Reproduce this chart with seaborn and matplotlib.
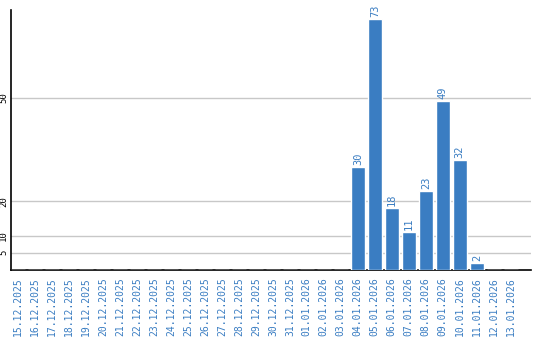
import matplotlib
matplotlib.use("Agg")
import matplotlib.pyplot as plt
import seaborn as sns
import pandas as pd

dates = ["15.12.2025", "16.12.2025", "17.12.2025", "18.12.2025", "19.12.2025",
         "20.12.2025", "21.12.2025", "22.12.2025", "23.12.2025", "24.12.2025",
         "25.12.2025", "26.12.2025", "27.12.2025", "28.12.2025", "29.12.2025",
         "30.12.2025", "31.12.2025", "01.01.2026", "02.01.2026", "03.01.2026",
         "04.01.2026", "05.01.2026", "06.01.2026", "07.01.2026", "08.01.2026",
         "09.01.2026", "10.01.2026", "11.01.2026", "12.01.2026", "13.01.2026"]
values = [0, 0, 0, 0, 0, 0, 0, 0, 0, 0,
          0, 0, 0, 0, 0, 0, 0, 0, 0, 0,
          30, 73, 18, 11, 23, 49, 32, 2, 0, 0]
yticks = [5, 10, 20, 50]

BLUE = "#3a7dc2"
sns.set_style("white")
plt.rcParams['font.family'] = ['DejaVu Sans Mono', 'DejaVu Sans']

df = pd.DataFrame({"date": dates, "value": values})
fig = plt.figure(figsize=(5.4, 3.4), dpi=100)
ax = fig.add_axes([0.0204, 0.206, 0.9626, 0.7646])
sns.barplot(data=df, x="date", y="value", color=BLUE, saturation=1, width=0.82, ax=ax, zorder=3)

ax.set_ylim(0, 75.6)
ax.set_xlim(-0.41, -0.41 + 520 / 17)
ax.set_yticks(yticks)
ax.set_yticklabels([str(t) for t in yticks], rotation=90, va="center", fontsize=6.5, color="black")
for t in yticks:
    ax.axhline(t, color="#c8c8c8", lw=1, zorder=1)
ax.tick_params(axis="y", length=0, pad=2)
ax.tick_params(axis="x", length=0, pad=5)
ax.set_xticks(range(len(dates)))
ax.set_xticklabels(dates, rotation=90, fontsize=7, color=BLUE)
ax.set_xlabel("")
ax.set_ylabel("")
for s in ["top", "right"]:
    ax.spines[s].set_visible(False)
for s in ["left", "bottom"]:
    ax.spines[s].set_color("black")
    ax.spines[s].set_linewidth(1.2)

for i, v in enumerate(values):
    if v > 0:
        ax.annotate(str(v), (i, v), xytext=(0, 1.5), textcoords="offset points",
                    rotation=90, ha="center", va="bottom", fontsize=7.5, color=BLUE)

fig.savefig("out.png", dpi=100)
